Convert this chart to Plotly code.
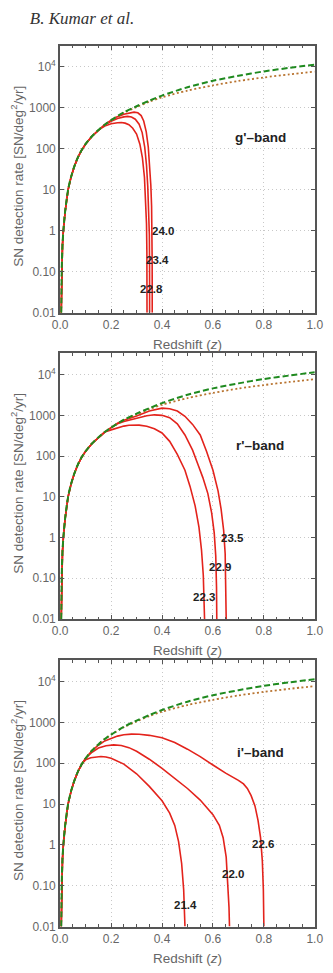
import numpy as np
import plotly.graph_objects as go

# ---------------- data ----------------
z_env = [0.004, 0.006, 0.009, 0.0125, 0.019, 0.031, 0.043, 0.056, 0.07, 0.085, 0.1,
         0.125, 0.15, 0.175, 0.2, 0.25, 0.3, 0.35, 0.4, 0.5, 0.6, 0.7, 0.8, 0.9, 1.0]
rate_dashed = [0.01, 0.12, 0.45, 1.0, 2.8, 10, 21, 38, 63, 95, 132,
               204, 288, 389, 500, 780, 1100, 1500, 2000, 3200, 4600, 6100, 7800, 9500, 11400]
rate_dotted = [0.01, 0.12, 0.45, 1.0, 2.8, 10, 21, 38, 63, 95, 132,
               204, 288, 389, 495, 760, 1050, 1420, 1820, 2650, 3550, 4550, 5550, 6600, 7700]

# g'-band limiting magnitudes
g_mags = ["24.0", "23.4", "22.8"]
g_join = [0.2, 0.175, 0.15]
g_z = [
    [0.22, 0.25, 0.27, 0.29, 0.305, 0.318, 0.328, 0.338, 0.346, 0.352, 0.356, 0.359, 0.3605, 0.3612, 0.3615],
    [0.2, 0.225, 0.25, 0.265, 0.28, 0.295, 0.31, 0.322, 0.332, 0.339, 0.344, 0.348, 0.3502, 0.351, 0.3512],
    [0.175, 0.2, 0.225, 0.24, 0.255, 0.27, 0.285, 0.3, 0.313, 0.323, 0.331, 0.336, 0.339, 0.3405, 0.341],
]
g_rate = [
    [590, 700, 760, 790, 760, 650, 480, 260, 110, 40, 13, 4, 1, 0.2, 0.01],
    [470, 550, 605, 620, 600, 530, 400, 250, 110, 40, 12, 3, 0.8, 0.15, 0.01],
    [360, 410, 435, 440, 425, 390, 320, 230, 130, 60, 20, 6, 1.5, 0.3, 0.01],
]

# r'-band
r_mags = ["23.5", "22.9", "22.3"]
r_join = [0.2, 0.2, 0.175]
r_z = [
    [0.225, 0.25, 0.3, 0.35, 0.4, 0.43, 0.46, 0.49, 0.52, 0.55, 0.575, 0.6, 0.62, 0.632, 0.642, 0.648, 0.651, 0.652],
    [0.225, 0.25, 0.3, 0.34, 0.37, 0.4, 0.43, 0.46, 0.49, 0.52, 0.54, 0.56, 0.58, 0.595, 0.605, 0.611, 0.614, 0.615],
    [0.2, 0.225, 0.25, 0.27, 0.29, 0.31, 0.34, 0.37, 0.4, 0.43, 0.46, 0.49, 0.51, 0.53, 0.545, 0.555, 0.562, 0.566, 0.567],
]
r_rate = [
    [640, 760, 960, 1280, 1500, 1450, 1280, 950, 600, 330, 130, 45, 14, 5, 1.5, 0.4, 0.06, 0.01],
    [620, 710, 850, 980, 1030, 1000, 880, 620, 330, 140, 65, 30, 12, 4, 1.3, 0.35, 0.06, 0.01],
    [440, 500, 545, 570, 580, 575, 540, 470, 370, 230, 110, 45, 18, 6, 1.8, 0.5, 0.12, 0.03, 0.01],
]

# i'-band
i_mags = ["22.6", "22.0", "21.4"]
i_join = [0.125, 0.1, 0.085]
i_z = [
    [0.15, 0.175, 0.2, 0.225, 0.25, 0.28, 0.31, 0.35, 0.4, 0.45, 0.5, 0.55, 0.6, 0.65, 0.7, 0.72, 0.735,
     0.75, 0.765, 0.777, 0.787, 0.794, 0.798, 0.8],
    [0.125, 0.15, 0.18, 0.21, 0.24, 0.27, 0.3, 0.35, 0.4, 0.45, 0.5, 0.55, 0.6, 0.625, 0.64, 0.652, 0.659,
     0.663, 0.665],
    [0.1, 0.12, 0.14, 0.16, 0.18, 0.2, 0.25, 0.3, 0.35, 0.4, 0.43, 0.45, 0.465, 0.477, 0.485, 0.489, 0.49],
]
i_rate = [
    [275, 350, 410, 460, 495, 515, 510, 480, 420, 320, 220, 145, 90, 57, 38, 31, 24, 16, 9, 4, 1.5, 0.4,
     0.08, 0.01],
    [185, 235, 268, 280, 270, 240, 195, 125, 75, 43, 24, 12.5, 5.5, 3, 1.5, 0.5, 0.12, 0.03, 0.01],
    [122, 136, 143, 145, 142, 132, 95, 55, 27, 12, 6, 3, 1.2, 0.35, 0.08, 0.02, 0.01],
]

y_tickvals = [0.01, 0.1, 1, 10, 100, 1000, 10000]
y_ticktext = ["0.01", "0.10", "1", "10", "100", "1000", "10<sup>4</sup>"]
x_tickvals = [0, 0.2, 0.4, 0.6, 0.8, 1.0]
x_ticktext = ["0.0", "0.2", "0.4", "0.6", "0.8", "1.0"]

# ---------------- layout geometry ----------------
W, H = 333, 973
left_px, right_px = 55, 323.3
panels_px = [(46, 315), (356, 623.5), (665, 933.3)]  # (top, bottom)

RED = "#e3231c"
GREEN = "#1f8a1f"
BROWN = "#b8732f"
AXC = "#555555"
TXT = "#666666"
GRID = "#c8c8c8"
FONT = "Liberation Sans, Arial, sans-serif"

fig = go.Figure()

bands = [
    ("g'\u2013band", g_mags, g_join, g_z, g_rate,
     [(0.405, 1.0), (0.382, 0.195), (0.358, 0.037)]),
    ("r'\u2013band", r_mags, r_join, r_z, r_rate,
     [(0.677, 1.0), (0.626, 0.19), (0.565, 0.034)]),
    ("i'\u2013band", i_mags, i_join, i_z, i_rate,
     [(0.795, 1.05), (0.677, 0.195), (0.491, 0.033)]),
]

annotations = []
for k, (band, mags, joins, zs, rates, lab_pos) in enumerate(bands):
    xa = "x" if k == 0 else f"x{k+1}"
    ya = "y" if k == 0 else f"y{k+1}"
    # red detection curves (follow the envelope up to the join point)
    for m, zj, zt, rt in zip(mags, joins, zs, rates):
        zz = [z for z in z_env if z <= zj] + zt
        rr = [r for z, r in zip(z_env, rate_dashed) if z <= zj] + rt
        fig.add_trace(go.Scatter(x=zz, y=rr, mode="lines", xaxis=xa, yaxis=ya,
                                 line=dict(color=RED, width=1.6), showlegend=False,
                                 hoverinfo="skip"))
    fig.add_trace(go.Scatter(x=z_env, y=rate_dotted, mode="lines", xaxis=xa, yaxis=ya,
                             line=dict(color=BROWN, width=1.8, dash="2px,2.5px", shape="spline",
                                       smoothing=0.8),
                             showlegend=False, hoverinfo="skip"))
    fig.add_trace(go.Scatter(x=z_env, y=rate_dashed, mode="lines", xaxis=xa, yaxis=ya,
                             line=dict(color=GREEN, width=2, dash="6px,3px", shape="spline",
                                       smoothing=0.8),
                             showlegend=False, hoverinfo="skip"))
    # magnitude labels
    for m, (lx, ly) in zip(mags, lab_pos):
        annotations.append(dict(x=lx, y=np.log10(ly), xref=xa, yref=ya, text=f"<b>{m}</b>",
                                showarrow=False, font=dict(family=FONT, size=11.5, color="#222"),
                                xanchor="center", yanchor="middle"))
    annotations.append(dict(x=0.785, y=np.log10(185), xref=xa, yref=ya, text=f"<b>{band}</b>",
                            showarrow=False, font=dict(family=FONT, size=13.5, color="#222"),
                            xanchor="center", yanchor="middle"))

    top, bot = panels_px[k]
    dom_y = [1 - bot / H, 1 - top / H]
    dom_x = [left_px / W, right_px / W]
    xkey = "xaxis" if k == 0 else f"xaxis{k+1}"
    ykey = "yaxis" if k == 0 else f"yaxis{k+1}"
    fig.layout[xkey] = dict(
        domain=dom_x, range=[0, 1], anchor=ya,
        tickmode="array", tickvals=x_tickvals, ticktext=x_ticktext,
        ticks="inside", ticklen=4, tickwidth=1, tickcolor=AXC,
        showline=True, linecolor=AXC, linewidth=2, mirror="ticks",
        showgrid=True, gridcolor=GRID, gridwidth=1, griddash="1px,3px",
        zeroline=False, tickfont=dict(family=FONT, size=12, color=TXT),
        minor=dict(dtick=0.05, tick0=0, ticks="inside", ticklen=2.5, tickcolor=AXC, showgrid=False),
    )
    fig.layout[ykey] = dict(
        domain=dom_y, type="log", range=[-2, 4.52], anchor=xa,
        tickmode="array", tickvals=y_tickvals, ticktext=y_ticktext,
        ticks="inside", ticklen=4, tickwidth=1, tickcolor=AXC,
        showline=True, linecolor=AXC, linewidth=2, mirror="ticks",
        showgrid=True, gridcolor=GRID, gridwidth=1, griddash="1px,3px",
        zeroline=False, tickfont=dict(family=FONT, size=12, color=TXT),
    )
    # axis titles
    annotations.append(dict(x=10 / W, y=1 - ((top + bot) / 2 - 3) / H, xref="paper", yref="paper",
                            text="SN detection rate [SN/deg<sup>2</sup>/yr]", textangle=-90,
                            showarrow=False, font=dict(family=FONT, size=13.5, color=TXT),
                            xanchor="center", yanchor="middle"))
    annotations.append(dict(x=(left_px + right_px) / 2 / W, y=1 - (bot + 32) / H,
                            xref="paper", yref="paper", text="Redshift (<i>z</i>)",
                            showarrow=False, font=dict(family=FONT, size=13.5, color=TXT),
                            xanchor="center", yanchor="middle"))

fig.update_layout(
    width=W, height=H, margin=dict(l=0, r=0, t=0, b=0),
    paper_bgcolor="white", plot_bgcolor="white",
    title=dict(text="<i>B. Kumar et al.</i>", x=23 / W, xref="paper", xanchor="left",
               y=1 - 18 / H, yref="paper", yanchor="middle",
               font=dict(family="Liberation Serif, Times New Roman, serif", size=17, color="#333")),
    annotations=annotations, showlegend=False)

fig.write_html("out.html")
